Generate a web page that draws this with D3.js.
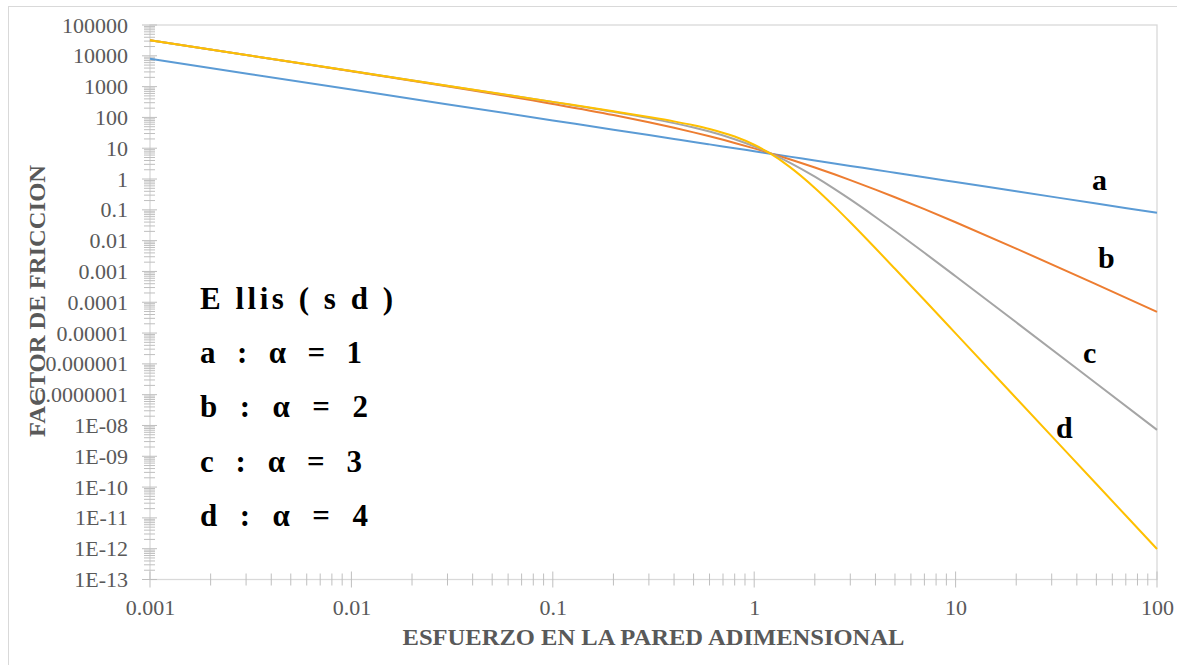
<!DOCTYPE html>
<html>
<head>
<meta charset="utf-8">
<script src="https://cdn.jsdelivr.net/npm/d3@7"></script>
<style>
  html, body { margin: 0; padding: 0; background: #fff; }
  svg { display: block; }
  text { font-family: "Liberation Serif", "Times New Roman", serif; }
</style>
</head>
<body>
<svg id="chart" width="1177" height="665"></svg>
<script>
// Dimensionless wall stress (x) and friction factor for the Ellis model
const stress = [0.001, 0.01, 0.1, 0.2, 0.3, 0.4, 0.5, 0.6, 0.8, 1, 1.2, 1.5, 2, 2.5, 3, 4, 5, 7, 10, 20, 50, 100];

const alpha1 = [8000, 800, 80, 40, 26.67, 20, 16, 13.33, 10, 8, 6.667, 5.333, 4, 3.2, 2.667, 2, 1.6, 1.143, 0.8, 0.4, 0.16, 0.08];
const alpha2 = [31950, 3149, 274.3, 118.9, 69.37, 45.91, 32.65, 24.35, 14.87, 9.877, 6.942, 4.408, 2.367, 1.422, 0.9227, 0.4535, 0.256, 0.1049, 0.03951, 0.005536, 3.807e-4, 4.877e-5];
const alpha3 = [32000, 3200, 315.8, 151.8, 94.93, 65.32, 47.02, 34.69, 19.65, 11.52, 6.942, 3.413, 1.190, 0.4795, 0.2177, 0.05878, 0.02051, 0.004033, 6.989e-4, 2.233e-5, 2.301e-7, 7.198e-9];
const alpha4 = [32000, 3200, 319.6, 158.5, 103.45, 74.45, 55.75, 42.26, 23.94, 12.96, 6.751, 2.487, 0.5154, 0.1298, 0.03952, 0.005667, 0.00122, 1.178e-4, 9.766e-6, 7.653e-8, 1.254e-10, 9.8e-13];

const seriesNames = ["a", "b", "c", "d"];
const seriesColors = ["#5B9BD5", "#ED7D31", "#A5A5A5", "#FFC000"];

const xTickValues = [0.001, 0.01, 0.1, 1, 10, 100];
const xTickLabels = ["0.001", "0.01", "0.1", "1", "10", "100"];
const yTickValues = [1e5, 1e4, 1e3, 1e2, 1e1, 1, 1e-1, 1e-2, 1e-3, 1e-4, 1e-5, 1e-6, 1e-7, 1e-8, 1e-9, 1e-10, 1e-11, 1e-12, 1e-13];
const yTickLabels = ["100000", "10000", "1000", "100", "10", "1", "0.1", "0.01", "0.001", "0.0001", "0.00001", "0.000001", "0.0000001",
                     "1E-08", "1E-09", "1E-10", "1E-11", "1E-12", "1E-13"];

const legendTitle = "E llis ( s d )";
const legendRows = ["a  :  α  =  1", "b  :  α  =  2", "c  :  α  =  3", "d  :  α  =  4"];
const xTitle = "ESFUERZO EN LA PARED ADIMENSIONAL";
const yTitle = "FACTOR DE FRICCION";

const serif = "'Liberation Serif', 'Times New Roman', serif";
const svg = d3.select("#chart");
const L = 150, R = 1157, T = 25, B = 579.5;

const x = d3.scaleLog().domain([0.001, 100]).range([L, R]);
const y = d3.scaleLog().domain([1e-13, 1e5]).range([B, T]);

// outer chart frame
svg.append("rect").attr("x", 8.5).attr("y", 6.5).attr("width", 1200).attr("height", 700)
  .attr("fill", "#fff").attr("stroke", "#d9d9d9").attr("stroke-width", 1);

// plot area frame
svg.append("rect").attr("x", L).attr("y", T).attr("width", R - L).attr("height", B - T)
  .attr("fill", "none").attr("stroke", "#d9d9d9").attr("stroke-width", 1.3);

// minor and major ticks (log spacing)
const tickColor = "#bfbfbf";
const gTicks = svg.append("g");
for (let e = -3; e <= 2; e++) {
  for (let m = 1; m <= 9; m++) {
    const v = m * Math.pow(10, e);
    if (v > 100 + 1e-9) continue;
    const px = x(v);
    const major = m === 1;
    gTicks.append("line").attr("x1", px).attr("x2", px)
      .attr("y1", major ? B - 8 : B - 6).attr("y2", major ? B + 8 : B + 6)
      .attr("stroke", tickColor).attr("stroke-width", 1);
  }
}
for (let e = -13; e <= 5; e++) {
  for (let m = 1; m <= 9; m++) {
    const v = m * Math.pow(10, e);
    if (v > 1e5 * 1.0001) continue;
    const py = y(v);
    const major = m === 1;
    gTicks.append("line").attr("y1", py).attr("y2", py)
      .attr("x1", major ? L - 8 : L - 6).attr("x2", major ? L + 7 : L + 5)
      .attr("stroke", tickColor).attr("stroke-width", 1);
  }
}

// axis labels via d3 axes
const xAxis = d3.axisBottom(x).tickValues(xTickValues)
  .tickFormat((d, i) => xTickLabels[i]).tickSize(0).tickPadding(20);
const gx = svg.append("g").attr("transform", `translate(0,${B})`).call(xAxis);
gx.attr("font-family", null);
gx.select(".domain").remove();
gx.selectAll("text").style("font-family", serif).style("font-size", "22px").attr("fill", "#595959");

const yAxis = d3.axisLeft(y).tickValues(yTickValues)
  .tickFormat((d, i) => yTickLabels[i]).tickSize(0).tickPadding(22);
const gy = svg.append("g").attr("transform", `translate(${L},0)`).call(yAxis);
gy.attr("font-family", null);
gy.select(".domain").remove();
gy.selectAll("text").style("font-family", serif).style("font-size", "22px").attr("fill", "#595959");

// curves
const allSeries = [alpha1, alpha2, alpha3, alpha4];
const line = d3.line().x(d => x(d[0])).y(d => y(d[1])).curve(d3.curveMonotoneX);
allSeries.forEach((vals, i) => {
  svg.append("path")
    .datum(stress.map((s, j) => [s, vals[j]]))
    .attr("d", line)
    .attr("fill", "none")
    .attr("stroke", seriesColors[i])
    .attr("stroke-width", 2)
    .attr("stroke-linejoin", "round");
});

// curve labels
const curveLabelPos = [[1092, 190], [1098, 268], [1083, 363], [1056, 438]];
seriesNames.forEach((n, i) => {
  svg.append("text").attr("x", curveLabelPos[i][0]).attr("y", curveLabelPos[i][1])
    .style("font-family", serif).attr("font-size", 30).attr("font-weight", "bold").attr("fill", "#000").text(n);
});

// axis titles
svg.append("text").attr("x", (L + R) / 2).attr("y", 645)
  .attr("text-anchor", "middle").attr("font-size", 24).attr("font-weight", "bold")
  .style("font-family", serif)
  .attr("fill", "#595959").attr("textLength", 502).attr("lengthAdjust", "spacingAndGlyphs")
  .text(xTitle);

svg.append("text").attr("transform", "translate(45,301) rotate(-90)")
  .attr("text-anchor", "middle").attr("font-size", 24).attr("font-weight", "bold")
  .style("font-family", serif)
  .attr("fill", "#595959").attr("textLength", 272).attr("lengthAdjust", "spacingAndGlyphs")
  .text(yTitle);

// legend text block
const legendG = svg.append("g").style("font-family", serif);
legendG.append("text").attr("x", 200).attr("y", 309).attr("font-size", 31).attr("font-weight", "bold")
  .style("font-family", serif).style("white-space", "pre")
  .attr("textLength", 193).attr("lengthAdjust", "spacing").text(legendTitle);
const rowEnds = [362, 368, 362, 368];
legendRows.forEach((t, i) => {
  legendG.append("text").attr("x", 200).attr("y", 363 + i * 54.3)
    .attr("font-size", 31).attr("font-weight", "bold")
    .style("font-family", serif).style("white-space", "pre")
    .attr("textLength", rowEnds[i] - 200).attr("lengthAdjust", "spacing").text(t);
});
</script>
</body>
</html>
